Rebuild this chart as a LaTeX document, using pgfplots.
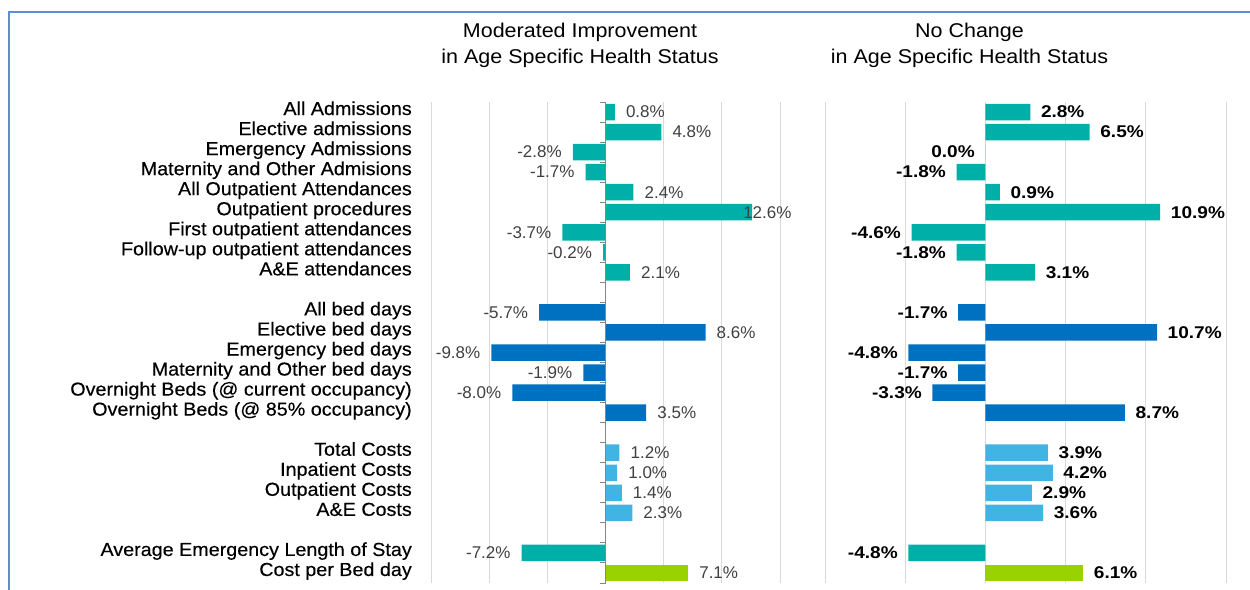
\documentclass[border=0pt]{standalone}
\usepackage{pgfplots}
\pgfplotsset{compat=1.18}
\usepackage{fontspec}
\setmainfont{Liberation Sans}
\newfontfamily\catf[FakeStretch=1.05,FakeBold=0.3]{Liberation Sans}
\newfontfamily\titf[FakeStretch=1.08]{Liberation Sans}
\newfontfamily\rlabf[FakeStretch=1.12]{Liberation Sans}
\definecolor{cteal}{RGB}{0,176,168}
\definecolor{cblue}{RGB}{0,112,192}
\definecolor{clight}{RGB}{65,180,228}
\definecolor{cgreen}{RGB}{153,210,0}
\definecolor{gridgray}{RGB}{217,217,217}
\definecolor{axisgray}{RGB}{134,134,134}
\definecolor{labgray}{RGB}{64,64,64}
\definecolor{framecol}{RGB}{91,141,207}
\pgfplotsset{
  panel/.style={scale only axis, height=481pt, ymin=0.5, ymax=24.5, y dir=reverse,
    axis line style={draw=none}, xmajorgrids, major grid style={draw=gridgray, line width=1pt},
    xticklabels={}, major tick length=0pt, tick style={draw=none}, clip=false},
  hbar/.style={xbar, bar width=16.5pt, bar shift=0pt, draw=none, fill=#1, point meta=x,
    nodes near coords={\pgfmathprintnumber[fixed,fixed zerofill,precision=1,assume math mode=true]{\pgfplotspointmeta}\%},
    visualization depends on={value \thisrow{a}\as\myanc},
    visualization depends on={value \thisrow{dx}\as\mydx}},
  labL/.style={nodes near coords style={anchor=\myanc, xshift=\mydx pt, inner xsep=11pt, inner ysep=0pt,
    font=\fontsize{17}{17}\selectfont, text=labgray}},
  labR/.style={nodes near coords style={anchor=\myanc, xshift=\mydx pt, inner xsep=10.5pt, inner ysep=0pt,
    font=\rlabf\bfseries\fontsize{17}{17}\selectfont, text=black}},
}
\begin{document}
\begin{tikzpicture}
\path[use as bounding box] (0pt,0pt) rectangle (1250pt,589pt);
\draw[framecol, line width=1.5pt] (9pt,-2pt) -- (9pt,577pt) -- (1252pt,577pt);
% titles
\node[anchor=base, font=\titf\fontsize{19.9}{22}\selectfont] at (580pt,551.5pt) {Moderated Improvement};
\node[anchor=base, font=\titf\fontsize{19.9}{22}\selectfont] at (580pt,525.7pt) {in Age Specific Health Status};
\node[anchor=base, font=\titf\fontsize{19.9}{22}\selectfont] at (969.5pt,551.5pt) {No Change};
\node[anchor=base, font=\titf\fontsize{19.9}{22}\selectfont] at (969.5pt,525.7pt) {in Age Specific Health Status};

% left panel
\begin{axis}[panel, at={(431pt,6pt)}, anchor=south west, width=349pt,
  xmin=-15, xmax=15, xtick={-15,-10,...,15},
  ytick={1,...,24},
  yticklabels={All Admissions, Elective admissions, Emergency Admissions, Maternity and Other Admisions,
    All Outpatient Attendances, Outpatient procedures, First outpatient attendances,
    Follow-up outpatient attendances, A\&E attendances, {},
    All bed days, Elective bed days, Emergency bed days, Maternity and Other bed days,
    Overnight Beds (@ current occupancy), Overnight Beds (@ 85\% occupancy), {},
    Total Costs, Inpatient Costs, Outpatient Costs, A\&E Costs, {},
    Average Emergency Length of Stay, Cost per Bed day},
  yticklabel style={font=\catf\fontsize{18.8}{20}\selectfont, anchor=base east, inner sep=0pt, xshift=-19pt, yshift=-3pt},
]
\addplot[hbar=cteal, labL] table[x=x,y=y] {
y x a dx
1 0.8 west 0
2 4.8 west 0
3 -2.8 east 0
4 -1.7 east 0
5 2.4 west 0
6 12.6 west -20
7 -3.7 east 0
8 -0.2 east 0
9 2.1 west 0
23 -7.2 east 0
};
\addplot[hbar=cblue, labL] table[x=x,y=y] {
y x a dx
11 -5.7 east 0
12 8.6 west 0
13 -9.8 east 0
14 -1.9 east 0
15 -8.0 east 0
16 3.5 west 0
};
\addplot[hbar=clight, labL] table[x=x,y=y] {
y x a dx
18 1.2 west 0
19 1.0 west 0
20 1.4 west 0
21 2.3 west 0
};
\addplot[hbar=cgreen, labL] table[x=x,y=y] {
y x a dx
24 7.1 west 0
};
\draw[axisgray, line width=1pt] (axis cs:0,0.5) -- (axis cs:0,24.5);
\pgfplotsinvokeforeach{0.5,1.5,...,24.5}{\draw[axisgray, line width=1pt] (axis cs:0,#1) -- ++(-6pt,0pt);}
\end{axis}

% right panel
\begin{axis}[panel, at={(825pt,6pt)}, anchor=south west, width=401pt,
  xmin=-10, xmax=15, xtick={-10,-5,...,15},
  ytick=\empty,
]
\addplot[hbar=cteal, labR] table[x=x,y=y] {
y x a dx
1 2.8 west 0
2 6.5 west 0
3 0.0 east 0
4 -1.8 east 0
5 0.9 west 0
6 10.9 west 0
7 -4.6 east 0
8 -1.8 east 0
9 3.1 west 0
23 -4.8 east 0
};
\addplot[hbar=cblue, labR] table[x=x,y=y] {
y x a dx
11 -1.7 east 0
12 10.7 west 0
13 -4.8 east 0
14 -1.7 east 0
15 -3.3 east 0
16 8.7 west 0
};
\addplot[hbar=clight, labR] table[x=x,y=y] {
y x a dx
18 3.9 west 0
19 4.2 west 0
20 2.9 west 0
21 3.6 west 0
};
\addplot[hbar=cgreen, labR] table[x=x,y=y] {
y x a dx
24 6.1 west 0
};
\end{axis}
\end{tikzpicture}
\end{document}
